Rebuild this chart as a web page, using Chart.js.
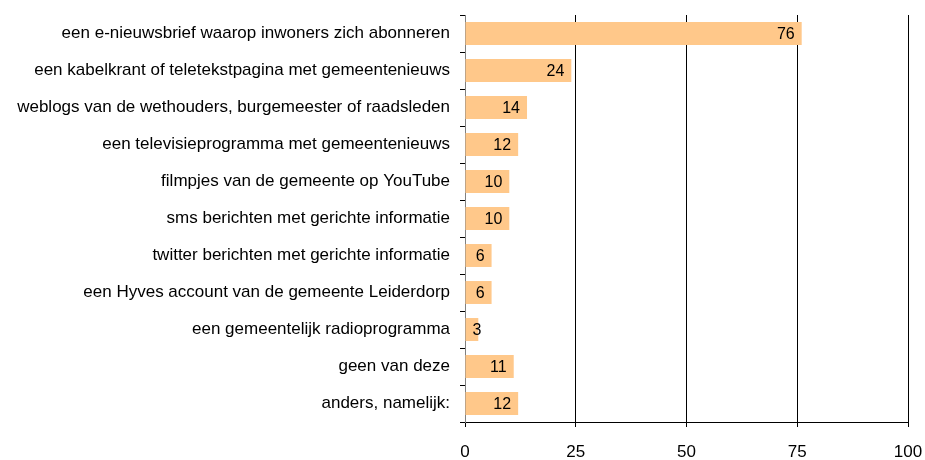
<!DOCTYPE html>
<html>
<head>
<meta charset="utf-8">
<script src="https://cdn.jsdelivr.net/npm/chart.js@4"></script>
<style>
  html, body { margin: 0; padding: 0; background: #fff; }
  #wrap { width: 925px; height: 460px; }
</style>
</head>
<body>
<div id="wrap"><canvas id="mediaChart" width="925" height="460"></canvas></div>
<script>
"use strict";

// categories, top to bottom
const labels = [
    "een e-nieuwsbrief waarop inwoners zich abonneren",
    "een kabelkrant of teletekstpagina met gemeentenieuws",
    "weblogs van de wethouders, burgemeester of raadsleden",
    "een televisieprogramma met gemeentenieuws",
    "filmpjes van de gemeente op YouTube",
    "sms berichten met gerichte informatie",
    "twitter berichten met gerichte informatie",
    "een Hyves account van de gemeente Leiderdorp",
    "een gemeentelijk radioprogramma",
    "geen van deze",
    "anders, namelijk:"
];
const values = [76, 24, 14, 12, 10, 10, 6, 6, 3, 11, 12];
const xTicks = [0, 25, 50, 75, 100];

Chart.defaults.font.family = "'Liberation Sans', Arial, sans-serif";
Chart.defaults.color = "#000000";

// value labels inside the end of each bar
const barValues = {
    id: "barValues",
    afterDatasetsDraw(chart) {
        const ctx = chart.ctx;
        const meta = chart.getDatasetMeta(0);
        ctx.save();
        ctx.font = "16px 'Liberation Sans', Arial, sans-serif";
        ctx.fillStyle = "#000";
        ctx.textBaseline = "middle";
        ctx.textAlign = "right";
        meta.data.forEach(function (bar, i) {
            const txt = String(values[i]);
            const w = ctx.measureText(txt).width;
            let x = bar.x - 7;
            if (x - w < bar.base + 7) x = bar.base + 7 + w;
            ctx.fillText(txt, x, bar.y + 1);
        });
        ctx.restore();
    }
};

const ctx = document.getElementById("mediaChart").getContext("2d");
new Chart(ctx, {
    type: "bar",
    data: {
        labels: labels,
        datasets: [{
            data: values,
            backgroundColor: "#FFC88A",
            borderWidth: 0,
            categoryPercentage: 0.62,
            barPercentage: 1.0
        }]
    },
    options: {
        indexAxis: "y",
        responsive: false,
        animation: false,
        layout: { padding: { top: 15, right: 17, left: 0, bottom: 0 } },
        plugins: {
            legend: { display: false },
            tooltip: { enabled: false }
        },
        scales: {
            x: {
                min: 0,
                max: 100,
                afterBuildTicks: function (axis) {
                    axis.ticks = xTicks.map(function (v) { return { value: v }; });
                },
                afterFit: function (scale) {
                    scale.height = 38;
                    scale.paddingLeft = 0;
                    scale.paddingRight = 0;
                },
                grid: {
                    color: function (c) { return c.tick && c.tick.value === 0 ? "#808080" : "#000000"; },
                    tickColor: "#000000",
                    tickLength: 5
                },
                border: { color: "#000000" },
                ticks: { font: { size: 17 }, padding: 15, maxRotation: 0 }
            },
            y: {
                afterFit: function (scale) {
                    scale.width = 465;
                    scale.paddingTop = 0;
                    scale.paddingBottom = 0;
                },
                grid: {
                    drawOnChartArea: false,
                    offset: true,
                    tickColor: "#000000",
                    tickLength: 5
                },
                border: { color: "#808080" },
                ticks: { font: { size: 17 }, padding: 10, autoSkip: false }
            }
        }
    },
    plugins: [barValues]
});
</script>
</body>
</html>
